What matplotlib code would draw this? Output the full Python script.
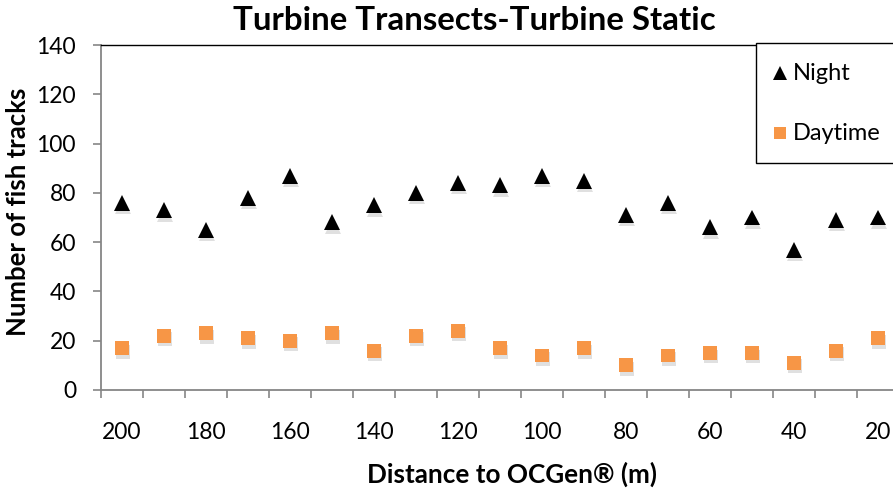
import matplotlib
matplotlib.use('Agg')
import matplotlib.pyplot as plt
import matplotlib.patheffects as pe
from matplotlib.patches import Rectangle
from matplotlib.lines import Line2D
import numpy as np

plt.rcParams['font.family'] = ['Lato', 'DejaVu Sans']

# distance categories (m) and fish track counts
distance = [200, 190, 180, 170, 160, 150, 140, 130, 120, 110,
            100, 90, 80, 70, 60, 50, 40, 30, 20]
night = [76, 73, 65, 78, 87, 68, 75, 80, 84, 83,
         87, 85, 71, 76, 66, 70, 57, 69, 70]
daytime = [17, 22, 23, 21, 20, 23, 16, 22, 24, 17,
           14, 17, 10, 14, 15, 15, 11, 16, 21]
tick_labels = [200, 180, 160, 140, 120, 100, 80, 60, 40, 20]

W, H = 893, 495
fig = plt.figure(figsize=(W / 100, H / 100), dpi=100)
ax = fig.add_axes([101 / W, 1 - 390 / H, 798 / W, 345 / H])

pos = np.arange(len(distance))
shadow = [pe.SimplePatchShadow(offset=(1, -2.5), shadow_rgbFace='#999999', alpha=0.3), pe.Normal()]

ax.plot(pos, night, linestyle='none', marker='^', ms=11.5, mew=0,
        color='black', path_effects=shadow, clip_on=False, zorder=3)
ax.plot(pos, daytime, linestyle='none', marker='s', ms=10, mew=0,
        color='#F79646', path_effects=shadow, clip_on=False, zorder=3)

ax.set_xlim(-0.5, len(distance) - 0.5)
ax.set_ylim(0, 140)
ax.set_yticks(np.arange(0, 141, 20))

# category axis: ticks between categories, label every second one
ax.set_xticks(pos[::2])
ax.set_xticklabels([str(v) for v in tick_labels])
ax.set_xticks(np.arange(-0.5, len(distance)), minor=True)
ax.tick_params(axis='x', which='major', length=0, pad=23, labelsize=16.5)
ax.tick_params(axis='x', which='minor', length=6, width=1.2, color='#868686', direction='out')
ax.tick_params(axis='y', length=6, width=1.2, color='#868686', direction='out', pad=12, labelsize=16.5)

for s in ['left', 'bottom']:
    ax.spines[s].set_color('#868686')
    ax.spines[s].set_linewidth(1.3)
ax.spines['top'].set_color('black')
ax.spines['top'].set_linewidth(1.0)
ax.spines['right'].set_visible(False)

fig.text(474 / W, 1 - 21 / H, 'Turbine Transects-Turbine Static', ha='center', va='center',
         fontsize=23.8, fontweight='bold')
fig.text(512 / W, 1 - 474 / H, 'Distance to OCGen® (m)', ha='center', va='center',
         fontsize=18.8, fontweight='bold')
fig.text(18 / W, 1 - 212 / H, 'Number of fish tracks', ha='center', va='center',
         rotation=90, fontsize=18.5, fontweight='bold')

# legend box
fig.patches.append(Rectangle((756 / W, 1 - 163 / H), 200 / W, 120 / H, transform=fig.transFigure,
                             facecolor='white', edgecolor='black', linewidth=1.0, zorder=5))
fig.lines.append(Line2D([780 / W], [1 - 73 / H], transform=fig.transFigure, marker='^',
                        ms=9.5, mew=0, color='black', zorder=6))
fig.lines.append(Line2D([780 / W], [1 - 133 / H], transform=fig.transFigure, marker='s',
                        ms=8, mew=0, color='#F79646', zorder=6))
fig.text(793 / W, 1 - 73 / H, 'Night', ha='left', va='center', fontsize=17, zorder=7)
fig.text(793 / W, 1 - 133 / H, 'Daytime', ha='left', va='center', fontsize=17, zorder=7)

fig.savefig('out.png', dpi=100)
